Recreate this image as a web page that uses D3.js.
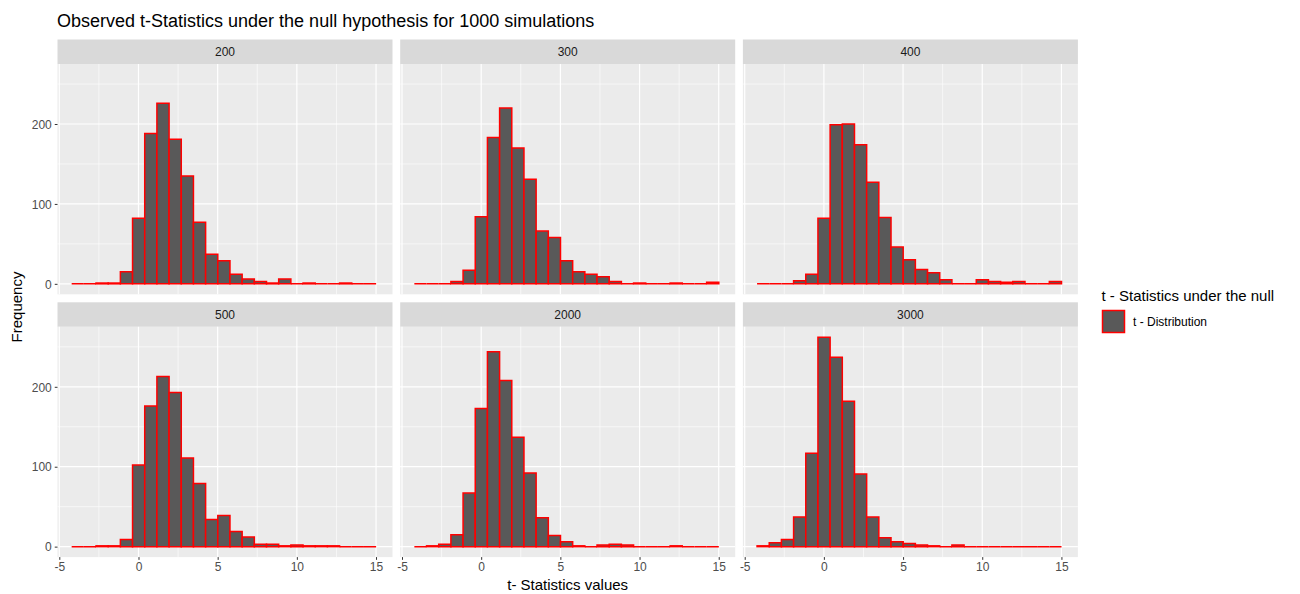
<!DOCTYPE html>
<html>
<head>
<meta charset="utf-8">
<script src="https://cdn.jsdelivr.net/npm/d3@7"></script>
<style>
  body { margin: 0; background: #fff; }
  svg { font-family: "Liberation Sans", Arial, sans-serif; }
  .tick-label { fill: #4d4d4d; font-size: 12px; }
</style>
</head>
<body>
<svg width="1300" height="594"></svg>
<script>
// facet labels (sample sizes)
var panelLabels = ['200', '300', '400', '500', '2000', '3000'];

// histogram bins: 25 bins, shared by every facet
var binStart = -4.22;
var binWidth = 0.769;

// counts per bin
var counts200  = [0, 0, 1, 1, 15, 82, 188, 226, 181, 135, 77, 37, 29, 12, 6, 3, 1, 6, 0, 1, 0, 0, 1, 0, 0];
var counts300  = [0, 0, 0, 3, 17, 84, 183, 220, 170, 131, 66, 58, 29, 15, 12, 9, 3, 0, 1, 0, 0, 1, 0, 0, 2];
var counts400  = [0, 0, 0, 4, 12, 82, 199, 200, 174, 127, 83, 46, 30, 18, 14, 5, 0, 0, 5, 3, 2, 3, 0, 0, 3];
var counts500  = [0, 0, 1, 1, 9, 102, 176, 213, 193, 111, 79, 34, 39, 19, 12, 3, 3, 1, 2, 1, 1, 1, 0, 0, 0];
var counts2000 = [0, 1, 3, 15, 67, 173, 244, 208, 137, 92, 36, 14, 6, 1, 0, 2, 3, 2, 0, 0, 0, 1, 0, 0, 0];
var counts3000 = [1, 5, 9, 37, 117, 262, 237, 182, 91, 37, 11, 6, 4, 2, 1, 0, 2, 0, 0, 0, 0, 0, 0, 0, 0];

var allCounts = [counts200, counts300, counts400, counts500, counts2000, counts3000];

var xTicks = [-5, 0, 5, 10, 15];
var xMinor = [-2.5, 2.5, 7.5, 12.5];
var yTicks = [0, 100, 200];
var yMinor = [50, 150, 250];

var svg = d3.select('svg');

// layout
var left = 57.5, panelW = 335, gapX = 7.7;
var rowTop = [39.5, 302.3];
var stripH = 24.5, panelH = 230.3;

var xScale = d3.scaleLinear().domain([-5.114, 16.04]).range([0, panelW]);
var maxCount = d3.max(allCounts, function(c) { return d3.max(c); });
var yScale = d3.scaleLinear()
    .domain([-0.05 * maxCount, maxCount * 1.05])
    .range([panelH, 0]);

// title
svg.append('text')
    .attr('x', 57)
    .attr('y', 26.5)
    .attr('font-size', 18)
    .attr('fill', '#000')
    .text('Observed t-Statistics under the null hypothesis for 1000 simulations');

panelLabels.forEach(function(label, i) {
    var col = i % 3, row = Math.floor(i / 3);
    var px = left + col * (panelW + gapX);
    var py = rowTop[row];

    var g = svg.append('g').attr('transform', 'translate(' + [px, py] + ')');

    // strip
    g.append('rect')
        .attr('width', panelW).attr('height', stripH)
        .attr('fill', '#d9d9d9');
    g.append('text')
        .attr('x', panelW / 2).attr('y', stripH / 2 + 4.3)
        .attr('text-anchor', 'middle')
        .attr('font-size', 12)
        .attr('fill', '#1a1a1a')
        .text(label);

    var pg = g.append('g').attr('transform', 'translate(' + [0, stripH] + ')');

    pg.append('rect')
        .attr('width', panelW).attr('height', panelH)
        .attr('fill', '#ebebeb');

    // minor grid
    pg.selectAll('.vminor').data(xMinor).enter().append('line')
        .attr('x1', function(d) { return xScale(d); })
        .attr('x2', function(d) { return xScale(d); })
        .attr('y1', 0).attr('y2', panelH)
        .attr('stroke', '#fff').attr('stroke-width', 0.6);
    pg.selectAll('.hminor').data(yMinor).enter().append('line')
        .attr('y1', function(d) { return yScale(d); })
        .attr('y2', function(d) { return yScale(d); })
        .attr('x1', 0).attr('x2', panelW)
        .attr('stroke', '#fff').attr('stroke-width', 0.6);
    // major grid
    pg.selectAll('.vmajor').data(xTicks).enter().append('line')
        .attr('x1', function(d) { return xScale(d); })
        .attr('x2', function(d) { return xScale(d); })
        .attr('y1', 0).attr('y2', panelH)
        .attr('stroke', '#fff').attr('stroke-width', 1.2);
    pg.selectAll('.hmajor').data(yTicks).enter().append('line')
        .attr('y1', function(d) { return yScale(d); })
        .attr('y2', function(d) { return yScale(d); })
        .attr('x1', 0).attr('x2', panelW)
        .attr('stroke', '#fff').attr('stroke-width', 1.2);

    // bars (paths so empty bins still show the red outline)
    var counts = allCounts[i];
    pg.selectAll('.bar').data(counts).enter().append('path')
        .attr('class', 'bar')
        .attr('d', function(d, k) {
            var x0 = xScale(binStart + k * binWidth);
            var x1 = xScale(binStart + (k + 1) * binWidth);
            var y0 = yScale(0), y1 = yScale(d);
            return 'M' + x0 + ',' + y0 + 'V' + y1 + 'H' + x1 + 'V' + y0 + 'Z';
        })
        .attr('fill', '#595959')
        .attr('stroke', '#ff0000')
        .attr('stroke-width', 1.5);

    // y axis on left column
    if (col === 0) {
        var yAxisG = pg.append('g').call(
            d3.axisLeft(yScale).tickValues(yTicks).tickFormat(String).tickSize(2.75).tickPadding(3));
        yAxisG.select('.domain').remove();
        yAxisG.selectAll('line').attr('stroke', '#333');
        yAxisG.selectAll('text').attr('class', 'tick-label').attr('font-size', null)
            .attr('font-family', null).attr('dy', '0.35em');
    }
    // x axis on bottom row, plain hyphen for negatives like R
    if (row === 1) {
        var xAxisG = pg.append('g')
            .attr('transform', 'translate(' + [0, panelH] + ')')
            .call(d3.axisBottom(xScale).tickValues(xTicks).tickFormat(String).tickSize(2.75).tickPadding(2.5));
        xAxisG.select('.domain').remove();
        xAxisG.selectAll('line').attr('stroke', '#333');
        xAxisG.selectAll('text').attr('class', 'tick-label').attr('font-size', null)
            .attr('font-family', null);
    }
});

// axis titles
var plotRight = left + 3 * panelW + 2 * gapX;
svg.append('text')
    .attr('x', (left + plotRight) / 2)
    .attr('y', 590)
    .attr('text-anchor', 'middle')
    .attr('font-size', 15)
    .text('t- Statistics values');

svg.append('text')
    .attr('transform', 'translate(22,307) rotate(-90)')
    .attr('text-anchor', 'middle')
    .attr('font-size', 15)
    .text('Frequency');

// legend
var legend = svg.append('g').attr('transform', 'translate(1101.5,0)');
legend.append('text')
    .attr('x', 0).attr('y', 301)
    .attr('font-size', 15)
    .text('t - Statistics under the null');
legend.append('rect')
    .attr('x', 1).attr('y', 310.5)
    .attr('width', 22).attr('height', 22)
    .attr('fill', '#595959')
    .attr('stroke', '#ff0000')
    .attr('stroke-width', 1.5);
legend.append('text')
    .attr('x', 31.5).attr('y', 326)
    .attr('font-size', 12)
    .text('t - Distribution');
</script>
</body>
</html>
